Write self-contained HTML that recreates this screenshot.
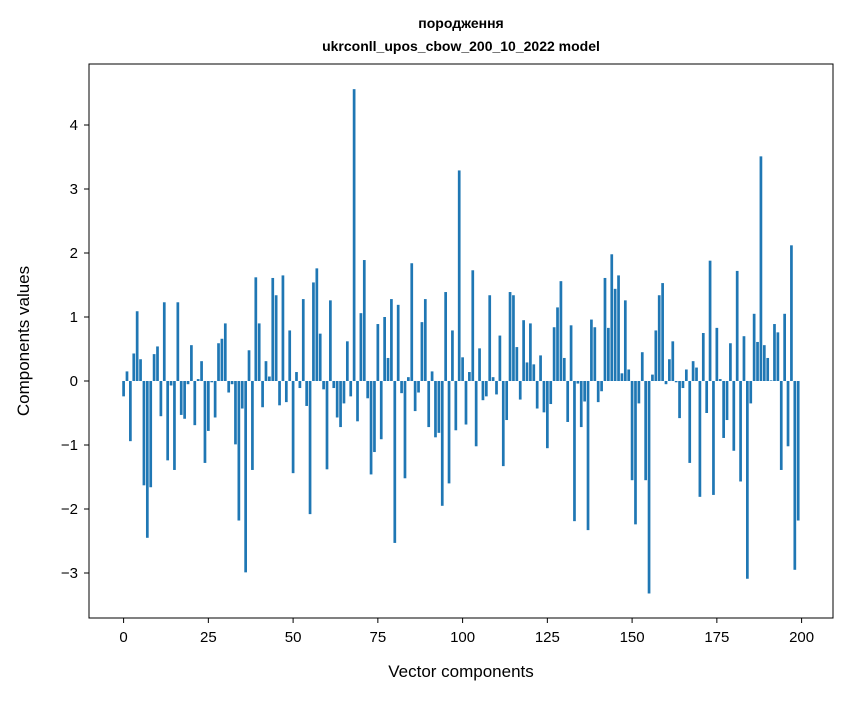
<!DOCTYPE html>
<html><head><meta charset="utf-8"><style>
body{margin:0;background:#fff;}
svg text{font-family:"Liberation Sans","DejaVu Sans",sans-serif;}
</style></head><body>
<svg id="chart" width="847" height="696" viewBox="0 0 847 696" xmlns="http://www.w3.org/2000/svg">
<rect width="847" height="696" fill="#fff"/>
<text x="461" y="28" text-anchor="middle" font-size="14" font-weight="bold">породження</text>
<text x="461" y="51" text-anchor="middle" font-size="14" font-weight="bold">ukrconll_upos_cbow_200_10_2022 model</text>
<g id="bars"></g>
<g id="xticks"></g>
<g id="yticks"></g>
<rect x="89" y="64" width="744" height="554" fill="none" stroke="#000" stroke-width="1"/>
<text x="461" y="677" text-anchor="middle" font-size="17">Vector components</text>
<text transform="translate(29,341) rotate(-90)" text-anchor="middle" font-size="17">Components values</text>
</svg>
<script>
const values = [-0.24,0.15,-0.94,0.43,1.09,0.34,-1.63,-2.45,-1.66,0.42,0.54,-0.55,1.23,-1.24,-0.07,-1.39,1.23,-0.53,-0.59,-0.05,
0.56,-0.69,0.03,0.31,-1.28,-0.78,-0.02,-0.57,0.59,0.66,0.90,-0.18,-0.05,-0.99,-2.18,-0.43,-2.99,0.48,-1.39,1.62,
0.90,-0.41,0.31,0.07,1.61,1.34,-0.38,1.65,-0.33,0.79,-1.44,0.14,-0.11,1.28,-0.39,-2.08,1.54,1.76,0.74,-0.13,
-1.38,1.26,-0.11,-0.57,-0.72,-0.35,0.62,-0.24,4.56,-0.63,1.06,1.89,-0.27,-1.46,-1.11,0.89,-0.91,1.00,0.36,1.28,
-2.53,1.19,-0.19,-1.52,0.06,1.84,-0.47,-0.18,0.92,1.28,-0.72,0.15,-0.88,-0.81,-1.95,1.39,-1.60,0.79,-0.77,3.29,
0.37,-0.68,0.14,1.73,-1.02,0.51,-0.30,-0.24,1.34,0.06,-0.21,0.71,-1.33,-0.61,1.39,1.34,0.53,-0.29,0.95,0.29,
0.90,0.26,-0.43,0.40,-0.49,-1.05,-0.36,0.84,1.15,1.56,0.36,-0.64,0.87,-2.19,-0.04,-0.72,-0.32,-2.33,0.96,0.84,
-0.33,-0.16,1.61,0.83,1.98,1.44,1.65,0.12,1.26,0.18,-1.55,-2.24,-0.35,0.45,-1.55,-3.32,0.10,0.79,1.34,1.53,
-0.05,0.34,0.62,-0.02,-0.58,-0.11,0.18,-1.28,0.31,0.21,-1.81,0.75,-0.50,1.88,-1.78,0.83,0.03,-0.89,-0.61,0.59,
-1.09,1.72,-1.57,0.70,-3.09,-0.35,1.05,0.61,3.51,0.56,0.36,0.01,0.89,0.76,-1.39,1.05,-1.02,2.12,-2.95,-2.18];
const xTicks = [0,25,50,75,100,125,150,175,200];
const yTicks = [-3,-2,-1,0,1,2,3,4];
const yTickLabels = ["\u22123","\u22122","\u22121","0","1","2","3","4"];
const NS="http://www.w3.org/2000/svg";
function xs(v){return 123.6+3.39*v;}
function ys(v){return 381-64*v;}
const bars=document.getElementById('bars');
values.forEach((v,i)=>{
  const r=document.createElementNS(NS,'rect');
  
  
  const x0=xs(i-0.4), x1=xs(i+0.4);
  const y0=Math.min(ys(v),ys(0)), h=Math.abs(ys(v)-ys(0));
  r.setAttribute('x',x0);r.setAttribute('width',x1-x0);
  r.setAttribute('y',y0);r.setAttribute('height',h);
  r.setAttribute('fill','#1f77b4');
  bars.appendChild(r);
});
const xg=document.getElementById('xticks');
xTicks.forEach(t=>{
  const l=document.createElementNS(NS,'line');
  
  
  l.setAttribute('x1',xs(t));l.setAttribute('x2',xs(t));l.setAttribute('y1',618);l.setAttribute('y2',623);l.setAttribute('stroke','#000');
  xg.appendChild(l);
  const tx=document.createElementNS(NS,'text');
  
  
  tx.setAttribute('x',xs(t));tx.setAttribute('y',642);tx.setAttribute('text-anchor','middle');tx.setAttribute('font-size','15');
  tx.textContent=t;xg.appendChild(tx);
});
const yg=document.getElementById('yticks');
yTicks.forEach((t,i)=>{
  const l=document.createElementNS(NS,'line');
  
  
  l.setAttribute('x1',84);l.setAttribute('x2',89);l.setAttribute('y1',ys(t));l.setAttribute('y2',ys(t));l.setAttribute('stroke','#000');
  yg.appendChild(l);
  const tx=document.createElementNS(NS,'text');
  
  
  tx.setAttribute('x',78);tx.setAttribute('y',ys(t)+5);tx.setAttribute('text-anchor','end');tx.setAttribute('font-size','15');
  tx.textContent=yTickLabels[i];yg.appendChild(tx);
});
</script>
</body></html>
